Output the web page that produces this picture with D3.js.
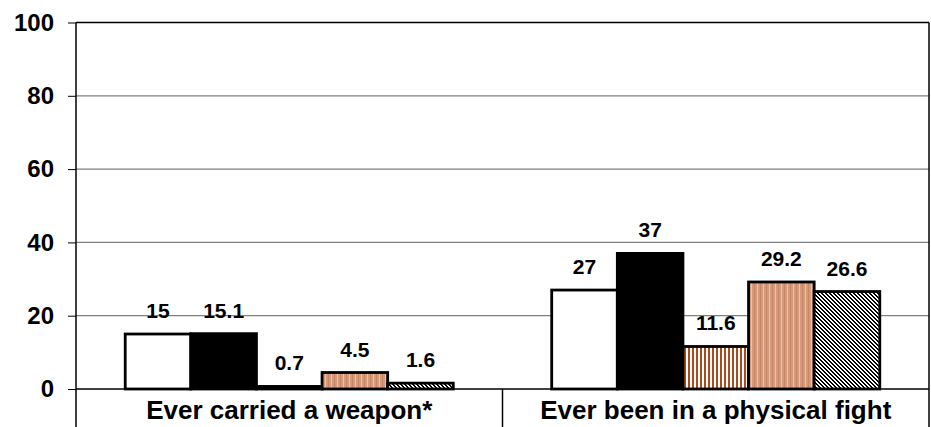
<!DOCTYPE html>
<html>
<head>
<meta charset="utf-8">
<script src="https://cdn.jsdelivr.net/npm/d3@7"></script>
<style>
  html, body { margin: 0; padding: 0; background: #fff; }
  svg { display: block; }
  text { font-family: "Liberation Sans", Arial, sans-serif; font-weight: bold; fill: #000; }
</style>
</head>
<body>
<svg id="chart" width="931" height="427"></svg>
<script>
// ---- data ----
const categories = ["Ever carried a weapon*", "Ever been in a physical fight"];
const seriesNames = ["Series 1", "Series 2", "Series 3", "Series 4", "Series 5"];
const series1 = [15, 27];
const series2 = [15.1, 37];
const series3 = [0.7, 11.6];
const series4 = [4.5, 29.2];
const series5 = [1.6, 26.6];
const yTicks = [0, 20, 40, 60, 80, 100];

const seriesValues = [series1, series2, series3, series4, series5];

const W = 931, H = 427;
const margin = { left: 76, right: 2, top: 22.5, bottom: 38 };
const svg = d3.select("#chart");

// patterns
const defs = svg.append("defs");
// series 3: brown vertical stripes on white
const p3 = defs.append("pattern").attr("id", "pat3").attr("patternUnits", "userSpaceOnUse")
  .attr("width", 4).attr("height", 4);
p3.append("rect").attr("width", 4).attr("height", 4).attr("fill", "#ffffff");
p3.append("rect").attr("x", 0).attr("width", 2).attr("height", 4).attr("fill", "#ad4a1a");
// series 4: tan with light vertical stripes
const p4 = defs.append("pattern").attr("id", "pat4").attr("patternUnits", "userSpaceOnUse")
  .attr("width", 6).attr("height", 4);
p4.append("rect").attr("width", 6).attr("height", 4).attr("fill", "#d39a7c");
p4.append("rect").attr("x", 1).attr("width", 1).attr("height", 4).attr("fill", "#e7c2ad");
p4.append("rect").attr("x", 4).attr("width", 1).attr("height", 4).attr("fill", "#c88664");
// series 5: crisp diagonal hatch "\\"
const p5 = defs.append("pattern").attr("id", "pat5").attr("patternUnits", "userSpaceOnUse")
  .attr("width", 4).attr("height", 4);
p5.append("rect").attr("width", 4).attr("height", 4).attr("fill", "#ffffff");
[0, 1, 2, 3].forEach(r => {
  [r, (r + 1) % 4].forEach(cx => {
    p5.append("rect").attr("x", cx).attr("y", r).attr("width", 1).attr("height", 1)
      .attr("fill", "#000").attr("shape-rendering", "crispEdges");
  });
});

const fills = ["#ffffff", "#000000", "url(#pat3)", "url(#pat4)", "url(#pat5)"];

const x0 = d3.scaleBand().domain(categories).range([margin.left, W - margin.right])
  .paddingInner(0).paddingOuter(0);
const x1 = d3.scaleBand().domain(seriesNames).range([0, x0.bandwidth()])
  .paddingInner(0).paddingOuter(0.75);
const y = d3.scaleLinear().domain([0, 100]).range([H - margin.bottom, margin.top]);

// gridlines
svg.append("g").selectAll("line").data(yTicks.filter(t => t > 0 && t < 100)).join("line")
  .attr("x1", margin.left).attr("x2", W - margin.right)
  .attr("y1", d => y(d)).attr("y2", d => y(d))
  .attr("stroke", "#808080").attr("stroke-width", 1.3);

// bars
const groups = svg.append("g").selectAll("g").data(seriesNames).join("g");
groups.each(function (name, si) {
  d3.select(this).selectAll("rect").data(categories).join("rect")
    .attr("x", c => x0(c) + x1(name))
    .attr("y", (c, ci) => y(seriesValues[si][ci]))
    .attr("width", x1.bandwidth())
    .attr("height", (c, ci) => y(0) - y(seriesValues[si][ci]))
    .attr("fill", fills[si])
    .attr("stroke", "#000").attr("stroke-width", 2.8);
});

// value labels
groups.each(function (name, si) {
  d3.select(this).selectAll("text").data(categories).join("text")
    .attr("x", c => x0(c) + x1(name) + x1.bandwidth() / 2)
    .attr("y", (c, ci) => y(seriesValues[si][ci]) - 16)
    .attr("text-anchor", "middle")
    .attr("font-size", 21)
    .text((c, ci) => seriesValues[si][ci]);
});

// frame: top, baseline
svg.append("line").attr("x1", margin.left).attr("x2", W - margin.right)
  .attr("y1", y(100)).attr("y2", y(100)).attr("stroke", "#000").attr("stroke-width", 1.5);
svg.append("line").attr("x1", margin.left).attr("x2", W - margin.right)
  .attr("y1", y(0)).attr("y2", y(0)).attr("stroke", "#000").attr("stroke-width", 1.5);

// y axis
const yAxis = d3.axisLeft(y).tickValues(yTicks).tickSize(8).tickSizeOuter(0).tickPadding(14);
const ya = svg.append("g").attr("transform", `translate(${margin.left},0)`).call(yAxis);
ya.select(".domain").remove();
ya.selectAll(".tick line").attr("stroke", "#000").attr("stroke-width", 1);
ya.selectAll(".tick text").attr("font-size", 24).attr("font-family", "Liberation Sans, Arial, sans-serif")
  .attr("font-weight", "bold").attr("fill", "#000");

// vertical lines: y axis, category separators, right border
const sepX = [x0.range()[0]].concat(categories.map(c => x0(c) + x0.bandwidth()));
svg.append("g").selectAll("line").data(sepX).join("line")
  .attr("x1", d => d).attr("x2", d => d)
  .attr("y1", (d, i) => (i === 0 || i === sepX.length - 1) ? y(100) : y(0))
  .attr("y2", H)
  .attr("stroke", "#000").attr("stroke-width", 1.5);

// category labels
svg.append("g").selectAll("text").data(categories).join("text")
  .attr("x", c => x0(c) + x0.bandwidth() / 2)
  .attr("y", H - 8)
  .attr("text-anchor", "middle")
  .attr("font-size", 26)
  .text(c => c);
</script>
</body>
</html>
